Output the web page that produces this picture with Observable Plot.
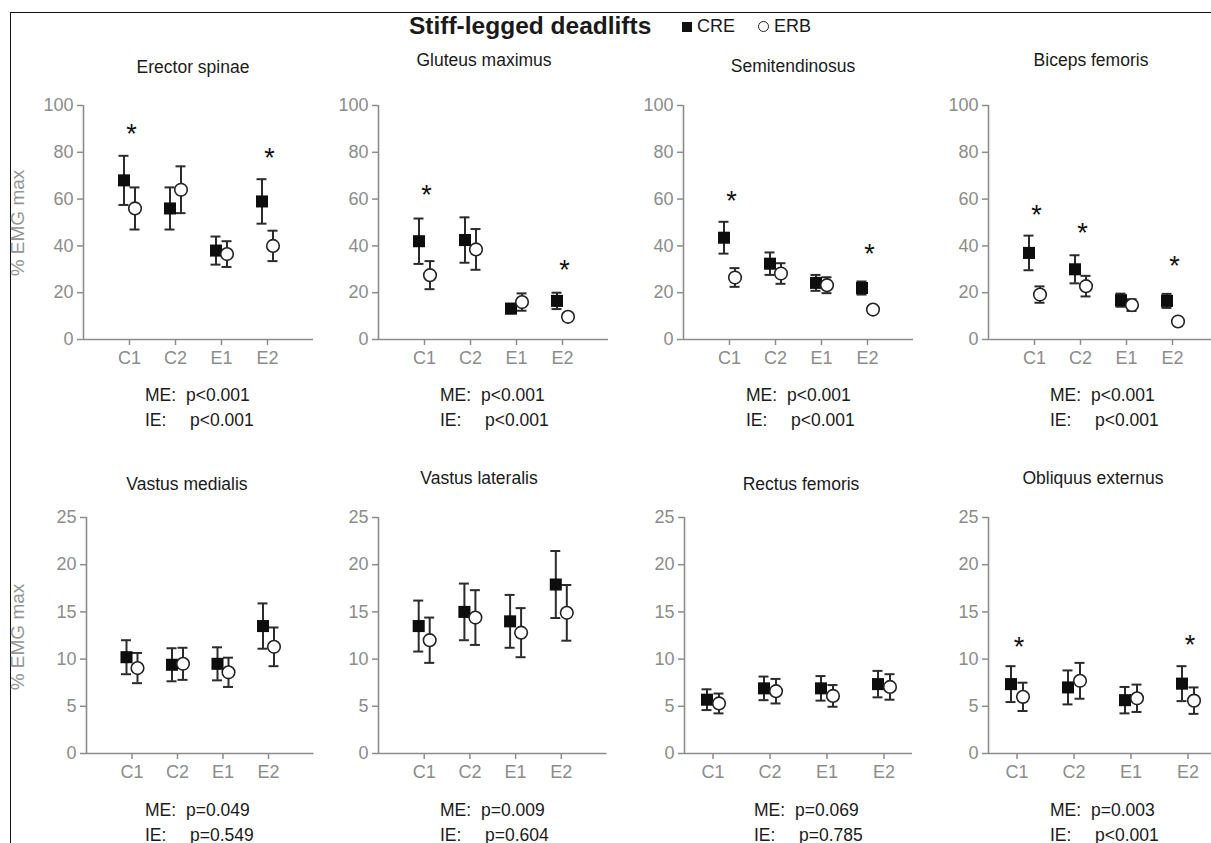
<!DOCTYPE html>
<html>
<head>
<meta charset="utf-8">
<script src="https://cdn.jsdelivr.net/npm/d3@7"></script>
<script src="https://cdn.jsdelivr.net/npm/@observablehq/plot@0.6"></script>
<style>
  html, body { margin: 0; padding: 0; background: white; }
  body { width: 1211px; height: 843px; position: relative; overflow: hidden; font-family: "Liberation Sans", Arial, sans-serif; color: #1a1a1a; }
  .abs { position: absolute; }
  .ptitle { position: absolute; font-size: 17.5px; transform: translate(-50%, -50%); white-space: nowrap; color: #1a1a1a; }
  .stats { position: absolute; font-size: 17.5px; line-height: 25px; color: #1a1a1a; white-space: nowrap; }
  .stats span.lab { display: inline-block; width: 45px; }
  .stats span.lab.me { width: 41px; }
  .ylab { position: absolute; font-size: 19px; color: #959595; transform: translate(-50%, -50%) rotate(-90deg); white-space: nowrap; }
  svg { overflow: visible; background: transparent; }
</style>
</head>
<body>
<div id="root"></div>
<script>
// ---------- data ----------
const groups = ["C1", "C2", "E1", "E2"];
const muscles = ["Erector spinae", "Gluteus maximus", "Semitendinosus", "Biceps femoris",
                 "Vastus medialis", "Vastus lateralis", "Rectus femoris", "Obliquus externus"];
const creMean = [
  [68, 56, 38, 59],
  [42, 42.5, 13.2, 16.5],
  [43.5, 32.4, 24.2, 22],
  [37, 30, 16.8, 16.5],
  [10.2, 9.4, 9.5, 13.5],
  [13.5, 15, 14, 17.9],
  [5.7, 6.9, 6.9, 7.35],
  [7.35, 7, 5.65, 7.4]
];
const creSD = [
  [10.5, 9, 6, 9.5],
  [9.7, 9.7, 2, 3.5],
  [6.8, 4.8, 3.4, 2.8],
  [7.4, 6, 2.8, 3],
  [1.8, 1.75, 1.75, 2.4],
  [2.7, 3, 2.8, 3.55],
  [1.1, 1.25, 1.3, 1.4],
  [1.9, 1.8, 1.4, 1.85]
];
const erbMean = [
  [56, 64, 36.5, 40],
  [27.5, 38.5, 16, 9.7],
  [26.5, 28.2, 23.2, 12.8],
  [19.2, 22.8, 14.7, 7.7],
  [9.05, 9.5, 8.6, 11.3],
  [12, 14.4, 12.8, 14.9],
  [5.3, 6.6, 6.1, 7.05],
  [6, 7.7, 5.85, 5.6]
];
const erbSD = [
  [9, 10, 5.5, 6.5],
  [6, 8.7, 3.7, 1.5],
  [4, 4.4, 3.4, 1.5],
  [3.5, 4.4, 2.5, 1],
  [1.6, 1.7, 1.55, 2.05],
  [2.4, 2.9, 2.6, 2.95],
  [1.05, 1.3, 1.15, 1.35],
  [1.5, 1.9, 1.45, 1.4]
];
// significance asterisks (y position of the star), null = none
const starY = [
  [91, null, null, 81],
  [65, null, null, 33],
  [62.6, null, null, 39.8],
  [56.3, 48.8, null, 34.6],
  [null, null, null, null],
  [null, null, null, null],
  [null, null, null, null],
  [12.1, null, null, 12.3]
];
const meP = ["p<0.001", "p<0.001", "p<0.001", "p<0.001", "p=0.049", "p=0.009", "p=0.069", "p=0.003"];
const ieP = ["p<0.001", "p<0.001", "p<0.001", "p<0.001", "p=0.549", "p=0.604", "p=0.785", "p<0.001"];
const yTicksTop = [0, 20, 40, 60, 80, 100];
const yTicksBottom = [0, 5, 10, 15, 20, 25];
const title = "Stiff-legged deadlifts";
const seriesNames = ["CRE", "ERB"];
const yLabel = "% EMG max";

// ---------- layout ----------
const gray = "#8c8c8c";
const dark = "#2b2b2b";
const layout = [
  {ax: 83,  top: 90,  mt: 15, ih: 234, xmax: 5, tp: [1,2,3,4], ppu: 46, tx: 193, ty: 67, sx: 145, sy: 383},
  {ax: 378, top: 90,  mt: 15, ih: 234, xmax: 5, tp: [1,2,3,4], ppu: 46, tx: 484, ty: 60, sx: 440, sy: 383},
  {ax: 683, top: 90,  mt: 15, ih: 234, xmax: 5, tp: [1,2,3,4], ppu: 46, tx: 793, ty: 66, sx: 746, sy: 383},
  {ax: 988, top: 90,  mt: 15, ih: 234, xmax: 5, tp: [1,2,3,4], ppu: 46, tx: 1091, ty: 60, sx: 1050, sy: 383},
  {ax: 86,  top: 500, mt: 17, ih: 236, xmax: 5, tp: [1,2,3,4], ppu: 45.5, tx: 187, ty: 484, sx: 145, sy: 798},
  {ax: 378, top: 500, mt: 17, ih: 236, xmax: 5, tp: [1,2,3,4], ppu: 45.7, tx: 479, ty: 478, sx: 440, sy: 798},
  {ax: 684, top: 500, mt: 17, ih: 236, xmax: 4, tp: [0.5,1.5,2.5,3.5], ppu: 57, tx: 801, ty: 484, sx: 754, sy: 798},
  {ax: 988, top: 500, mt: 17, ih: 236, xmax: 4, tp: [0.5,1.5,2.5,3.5], ppu: 57, tx: 1093, ty: 478, sx: 1050, sy: 798}
];

const root = document.getElementById("root");

function add(html) { const d = document.createElement("div"); d.innerHTML = html; const el = d.firstElementChild; root.appendChild(el); return el; }

// frame lines
add(`<div class="abs" style="left:10px;top:12px;width:1201px;height:0;border-top:1.5px solid #111"></div>`);
add(`<div class="abs" style="left:10px;top:12px;width:0;height:831px;border-left:1.5px solid #111"></div>`);

// title + legend
add(`<div class="abs" style="left:409px;top:12px;font-size:24.5px;font-weight:bold;white-space:nowrap">${title}</div>`);
add(`<div class="abs" style="left:682px;top:16px;font-size:18px;white-space:nowrap;display:flex;align-items:center;gap:5px">
  <span style="display:inline-block;width:10px;height:10px;background:#111"></span><span>${seriesNames[0]}</span>
  <span style="display:inline-block;width:9px;height:9px;border:1.3px solid #222;border-radius:50%;margin-left:18px"></span><span>${seriesNames[1]}</span>
</div>`);

// y labels
add(`<div class="ylab" style="left:18px;top:223px">${yLabel}</div>`);
add(`<div class="ylab" style="left:18px;top:637px">${yLabel}</div>`);

const ml = 66, mr = 2, mb = 36;

muscles.forEach((name, i) => {
  const L = layout[i];
  const ymax = i < 4 ? 100 : 25;
  const yTicks = i < 4 ? yTicksTop : yTicksBottom;
  const iw = L.xmax * L.ppu;
  const off = (L.tp[0] === 1 ? 5.5 : 6) / L.ppu;
  const cap = 5 / L.ppu;
  const cre = groups.map((g, j) => ({g, x: L.tp[j] - off, m: creMean[i][j], s: creSD[i][j]}));
  const erb = groups.map((g, j) => ({g, x: L.tp[j] + off, m: erbMean[i][j], s: erbSD[i][j]}));
  const all = cre.concat(erb);
  const stars = groups.map((g, j) => ({x: L.tp[j] + 2 / L.ppu, y: starY[i][j]})).filter(d => d.y != null);

  const chart = Plot.plot({
    width: ml + iw + mr,
    height: L.mt + L.ih + mb,
    marginLeft: ml, marginRight: mr, marginTop: L.mt, marginBottom: mb,
    style: {fontFamily: '"Liberation Sans", Arial, sans-serif', background: "transparent", overflow: "visible"},
    x: {domain: [0, L.xmax], axis: null},
    y: {domain: [0, ymax], axis: null},
    marks: [
      Plot.axisY({ticks: yTicks, tickSize: 6, tickPadding: 4, fontSize: 18, color: gray, strokeWidth: 1.5, label: null,
                  tickFormat: d => String(d)}),
      Plot.axisX({ticks: L.tp, tickSize: 6, tickPadding: 6, fontSize: 18, color: gray, strokeWidth: 1.5, label: null,
                  tickFormat: d => groups[L.tp.indexOf(d)]}),
      Plot.ruleX([0], {y1: 0, y2: ymax, stroke: gray, strokeWidth: 1.6}),
      Plot.ruleY([0], {x1: 0, x2: L.xmax, stroke: gray, strokeWidth: 1.6}),
      Plot.ruleX(all, {x: "x", y1: d => d.m - d.s, y2: d => d.m + d.s, stroke: dark, strokeWidth: 2}),
      Plot.ruleY(all, {y: d => d.m + d.s, x1: d => d.x - cap, x2: d => d.x + cap, stroke: dark, strokeWidth: 2}),
      Plot.ruleY(all, {y: d => d.m - d.s, x1: d => d.x - cap, x2: d => d.x + cap, stroke: dark, strokeWidth: 2}),
      Plot.dot(cre, {x: "x", y: "m", symbol: "square", r: 6.8, fill: "#0d0d0d"}),
      Plot.dot(erb, {x: "x", y: "m", symbol: "circle", r: 6.3, fill: "white", stroke: "#222", strokeWidth: 1.6}),
      Plot.text(stars, {x: "x", y: "y", text: () => "*", fontSize: 27, fill: "#111", dy: 8})
    ]
  });
  chart.style.position = "absolute";
  chart.style.left = (L.ax - ml) + "px";
  chart.style.top = L.top + "px";
  root.appendChild(chart);

  add(`<div class="ptitle" style="left:${L.tx}px;top:${L.ty}px">${name}</div>`);
  add(`<div class="stats" style="left:${L.sx}px;top:${L.sy}px"><div><span class="lab me">ME:</span>${meP[i]}</div><div><span class="lab">IE:</span>${ieP[i]}</div></div>`);
});
</script>
</body>
</html>
